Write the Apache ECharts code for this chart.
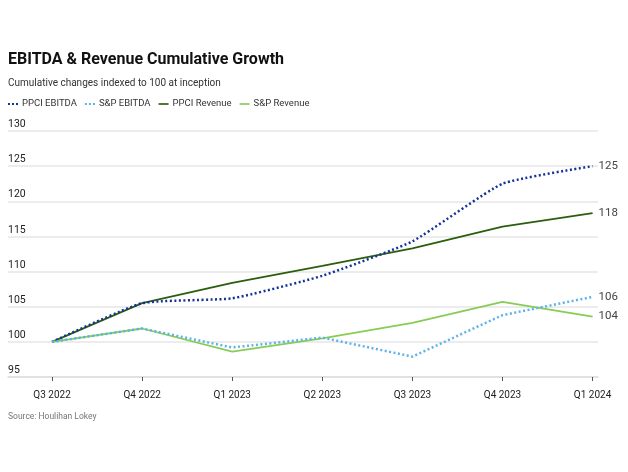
<!DOCTYPE html>
<html><head><meta charset="utf-8">
<script src="https://cdn.jsdelivr.net/npm/echarts@6/dist/echarts.min.js"></script>
<style>html,body{margin:0;padding:0;background:#fff}#c{width:628px;height:472px}</style>
</head><body><div id="c"></div>
<script>
const categories = ['Q3 2022','Q4 2022','Q1 2023','Q2 2023','Q3 2023','Q4 2023','Q1 2024'];
const ppciEbitda = [100, 105.5, 106.2, 109.4, 114.3, 122.5, 125];
const spEbitda = [100, 101.9, 99.2, 100.6, 97.9, 103.8, 106.4];
const ppciRevenue = [100, 105.5, 108.4, 110.8, 113.3, 116.4, 118.3];
const spRevenue = [100, 101.9, 98.6, 100.5, 102.7, 105.7, 103.6];
const endLabels = ['125','106','118','104'];

const font = 'Roboto, "Liberation Sans", sans-serif';
const dotIcon = 'path://M0,0h2v2h-2z M4,0h2v2h-2z M8,0h2v2h-2z';
const lineIcon = 'path://M0,0h12v2h-12z';
function pts(arr){ return arr.map((v,i)=>[i,v]); }
function endLabel(text){
  return {show:true, formatter:text, color:'#444', fontSize:11.5, fontFamily:font, distance:6};
}
const chart = echarts.init(document.getElementById('c'), null, {renderer:'canvas'});
chart.setOption({
  animation:false,
  title:[
    {text:'EBITDA & Revenue Cumulative Growth', left:8, top:52, padding:0, textStyle:{fontSize:16, fontWeight:'bold', color:'#111', fontFamily:font}},
    {text:'Cumulative changes indexed to 100 at inception', left:8, top:78, padding:0, textStyle:{fontSize:10, fontWeight:'normal', color:'#333', fontFamily:font}},
    {text:'Source: Houlihan Lokey', left:8, top:412, padding:0, textStyle:{fontSize:8.5, fontWeight:'normal', color:'#777', fontFamily:font}}
  ],
  legend:{
    left:8, top:99, padding:0, itemWidth:10, itemHeight:2, itemGap:8,
    textStyle:{fontSize:9.5, color:'#333', fontFamily:font, padding:[0,0,0,-1]},
    data:[
      {name:'PPCI EBITDA', icon:dotIcon, itemStyle:{color:'#13329a'}},
      {name:'S&P EBITDA', icon:dotIcon, itemStyle:{color:'#5cb3ea'}},
      {name:'PPCI Revenue', icon:lineIcon, itemStyle:{color:'#2a5e0c'}},
      {name:'S&P Revenue', icon:lineIcon, itemStyle:{color:'#88cc55'}}
    ]
  },
  grid:{left:8, right:30, top:131, bottom:95},
  xAxis:{
    type:'value', min:-0.489, max:6.06,
    axisLine:{show:true, lineStyle:{color:'#ddd', width:1.5}},
    axisTick:{show:true, customValues:[0,1,2,3,4,5,6], length:4, lineStyle:{color:'#555'}},
    axisLabel:{customValues:[0,1,2,3,4,5,6], formatter:v=>categories[Math.round(v)], color:'#222', fontSize:10, fontFamily:font, margin:13},
    splitLine:{show:false}
  },
  yAxis:{
    type:'value', min:95, max:130, interval:5,
    axisLine:{show:false}, axisTick:{show:false},
    axisLabel:{inside:true, verticalAlign:'bottom', margin:0, color:'#222', fontSize:10.5, fontFamily:font, padding:[0,0,1,0]},
    splitLine:{lineStyle:{color:'#e6e6e6', width:1.5}}
  },
  series:[
    {name:'PPCI EBITDA', type:'line', data:pts(ppciEbitda), symbol:'none', smooth:0.15,
     lineStyle:{color:'#13329a', width:2.5, type:[2,2.5]}, itemStyle:{color:'#13329a'},
     endLabel:endLabel(endLabels[0]), z:4},
    {name:'S&P EBITDA', type:'line', data:pts(spEbitda), symbol:'none',
     lineStyle:{color:'#5cb3ea', width:2.5, type:[2,2.5]}, itemStyle:{color:'#5cb3ea'},
     endLabel:endLabel(endLabels[1]), z:4},
    {name:'PPCI Revenue', type:'line', data:pts(ppciRevenue), symbol:'none',
     lineStyle:{color:'#2a5e0c', width:1.8}, itemStyle:{color:'#2a5e0c'},
     endLabel:endLabel(endLabels[2]), z:3},
    {name:'S&P Revenue', type:'line', data:pts(spRevenue), symbol:'none',
     lineStyle:{color:'#88cc55', width:1.8}, itemStyle:{color:'#88cc55'},
     endLabel:endLabel(endLabels[3]), z:3}
  ]
});
</script></body></html>
